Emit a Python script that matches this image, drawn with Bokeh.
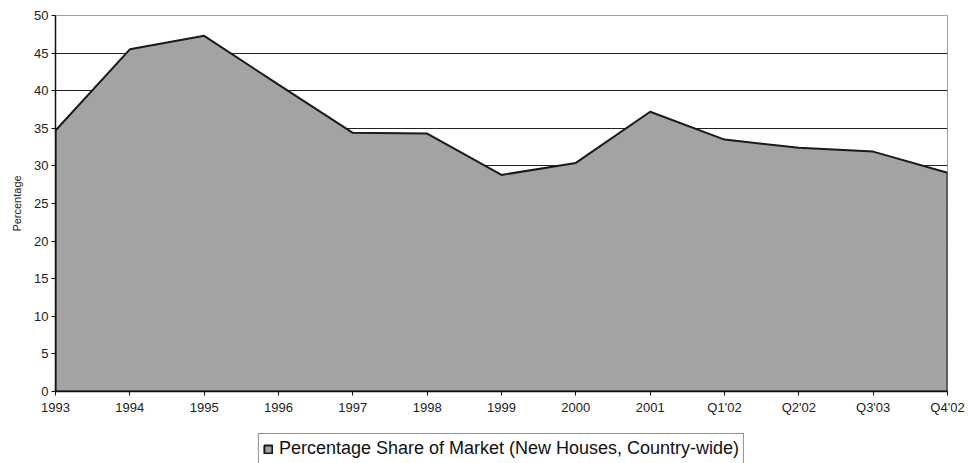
from bokeh.plotting import figure
from bokeh.layouts import column
from bokeh.models import FixedTicker, Range1d, Legend, LegendItem
from bokeh.embed import file_html
from bokeh.resources import INLINE

categories = ["1993", "1994", "1995", "1996", "1997", "1998", "1999", "2000",
              "2001", "Q1'02", "Q2'02", "Q3'03", "Q4'02"]
share = [34.7, 45.5, 47.3, 40.8, 34.4, 34.3, 28.8, 30.4, 37.2, 33.5, 32.4, 31.9, 29.1]
y_ticks = [0, 5, 10, 15, 20, 25, 30, 35, 40, 45, 50]
series_name = "Percentage Share of Market (New Houses, Country-wide)"

FONT = "Liberation Sans"
FILL = "#a3a3a3"
EDGE = "#1a1a1a"

idx = list(range(len(categories)))
xs = idx + [idx[-1], idx[0]]
ys = share + [0, 0]

p = figure(frame_width=892, frame_height=376, output_backend="svg", toolbar_location=None,
           x_range=Range1d(0, len(categories) - 1), y_range=Range1d(0, 50))
p.min_border_left = 55
p.min_border_right = 23
p.min_border_top = 15
p.min_border_bottom = 30
p.outline_line_color = "#a0a0a0"
p.outline_line_width = 1

p.patch(xs, ys, fill_color=FILL, line_color=EDGE, line_width=2)

p.xaxis.ticker = FixedTicker(ticks=idx)
p.xaxis.major_label_overrides = {i: c for i, c in enumerate(categories)}
p.yaxis.ticker = FixedTicker(ticks=y_ticks)

for ax in (p.xaxis[0], p.yaxis[0]):
    ax.axis_line_color = "#111111"
    ax.axis_line_width = 1.5
    ax.major_tick_line_color = "#111111"
    ax.major_tick_out = 4
    ax.major_tick_in = 0
    ax.minor_tick_line_color = None
    ax.major_label_text_font = FONT
    ax.major_label_text_font_size = "13px"
    ax.major_label_text_color = "#222222"

p.xaxis.major_label_standoff = 4
p.yaxis.major_label_standoff = 3
p.yaxis.axis_label = "Percentage"
p.yaxis.axis_label_text_font = FONT
p.yaxis.axis_label_text_font_size = "11px"
p.yaxis.axis_label_text_font_style = "normal"
p.yaxis.axis_label_text_color = "#222222"
p.yaxis.axis_label_standoff = 8

p.xgrid.grid_line_color = None
p.ygrid.grid_line_color = "#222222"
p.ygrid.grid_line_width = 1.2

# Separate strip holding the legend below the chart
lf = figure(frame_width=892, frame_height=42, output_backend="svg", toolbar_location=None,
            x_axis_type=None, y_axis_type=None,
            x_range=Range1d(0, len(categories) - 1), y_range=Range1d(100, 101))
lf.min_border_left = 55
lf.min_border_right = 23
lf.min_border_top = 0
lf.min_border_bottom = 0
lf.outline_line_color = None
lf.xgrid.grid_line_color = None
lf.ygrid.grid_line_color = None
lr = lf.patch(xs, ys, fill_color=FILL, line_color=EDGE, line_width=2)

legend = Legend(items=[LegendItem(label=series_name, renderers=[lr])],
                location="top_center", orientation="horizontal")
legend.label_text_font = FONT
legend.label_text_font_size = "18px"
legend.label_text_color = "#111111"
legend.border_line_color = "#222222"
legend.border_line_width = 1
legend.glyph_width = 10
legend.glyph_height = 10
legend.padding = 4
legend.spacing = 0
legend.margin = 12
legend.label_standoff = 6
legend.background_fill_alpha = 1
lf.add_layout(legend, "center")

layout = column(p, lf, spacing=0)
open("out.html", "w").write(file_html(layout, INLINE))
